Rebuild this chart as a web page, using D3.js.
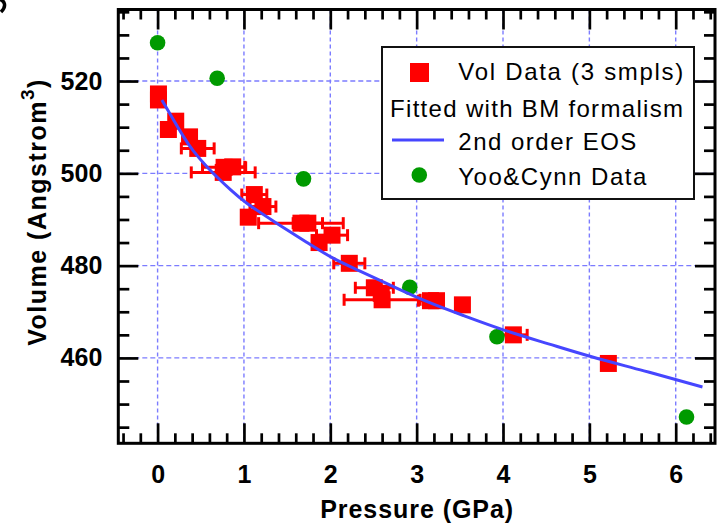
<!DOCTYPE html>
<html><head><meta charset="utf-8">
<script src="https://cdn.jsdelivr.net/npm/d3@7"></script>
<style>body{margin:0;background:#fff}svg{display:block}</style>
</head><body><svg id="c" width="725" height="525"></svg>
<script>
// ---- data ----
const volP   = [0.01, 0.01, 0.125, 0.21, 0.37, 0.465, 0.76, 0.77, 0.87, 1.12, 1.22, 1.05, 1.66, 1.74, 1.87, 2.02, 2.22, 2.51, 2.59, 2.60, 3.16, 3.23, 3.53, 4.12, 5.22];
const volV   = [517.2, 515.9, 509.5, 511.3, 507.9, 505.4, 500.2, 501.3, 501.4, 495.4, 492.8, 490.5, 489.2, 489.2, 485.0, 486.6, 480.5, 475.2, 474.0, 472.6, 472.4, 472.4, 471.5, 465.0, 458.8];
const volErr = [0, 0, 0, 0, 0, 0.19, 0.37, 0.25, 0.14, 0.145, 0.15, 0, 0.49, 0.17, 0, 0.18, 0.18, 0.22, 0, 0.44, 0.14, 0, 0, 0.16, 0];
const yooP = [0, 0.69, 1.69, 2.92, 3.93, 6.125];
const yooV = [528.3, 520.6, 498.8, 475.3, 464.6, 447.2];
const fitP = [0.05, 0.18, 0.30, 0.41, 0.57, 0.72, 0.84, 1.00, 1.36, 1.75, 2.02, 2.30, 2.77, 3.15, 3.54, 4.00, 4.54, 5.00, 5.62, 6.31];
const fitV = [515.9, 511.7, 507.9, 504.8, 501.4, 498.6, 496.5, 493.8, 489.4, 484.8, 481.6, 479.2, 475.1, 471.9, 469.2, 466.0, 463.0, 460.3, 457.3, 453.7];
const xTicks = [0, 1, 2, 3, 4, 5, 6];
const yTicks = [460, 480, 500, 520];
const legendLabels = ["Vol Data (3 smpls)", "Fitted with BM formalism", "2nd order EOS", "Yoo&Cynn Data"];
const xTitle = "Pressure (GPa)";
const yTitleMain = "Volume (Angstrom";

// ---- layout ----
const L = 118.3, R = 715, T = 9.5, B = 443.3;
const x = d3.scaleLinear().domain([-0.455, 6.455]).range([L, R]);
const y = d3.scaleLinear().domain([441.5, 535.5]).range([B, T]);
const svg = d3.select("#c");
const font = "'Liberation Sans', Arial, Helvetica, sans-serif";
const gridColor = "#7c7cff";
const red = "#ff0000", green = "#009a00", blue = "#4646ff";

// fragment of a cut-off panel letter in the corner
svg.append("path").attr("d", "M-2,-1 C5,0 7,6 1,12")
  .attr("fill", "none").attr("stroke", "#000").attr("stroke-width", 3.5);

// grid
svg.append("g").selectAll("line").data(xTicks).join("line")
  .attr("x1", d => x(d)).attr("x2", d => x(d)).attr("y1", T).attr("y2", B)
  .attr("stroke", gridColor).attr("stroke-width", 1.4).attr("stroke-dasharray", "4,3");
svg.append("g").selectAll("line").data(yTicks).join("line")
  .attr("y1", d => y(d)).attr("y2", d => y(d)).attr("x1", L).attr("x2", R)
  .attr("stroke", gridColor).attr("stroke-width", 1.4).attr("stroke-dasharray", "5,3");

// axes
const xMinor = d3.range(-4, 65, 2).map(v => v / 10).filter(v => Math.abs(v - Math.round(v)) > 1e-6);
const yMinor = d3.range(445, 536, 5).filter(v => v % 20 !== 0);
function styleAxis(g) {
  g.select(".domain").remove();
  g.selectAll(".tick line").attr("stroke", "#000").attr("stroke-width", 2.7);
  g.selectAll("text").attr("font-family", font).attr("font-weight", "bold").attr("font-size", 25).attr("fill", "#000");
}
svg.append("g").attr("transform", `translate(0,${B})`)
  .call(d3.axisBottom(x).tickValues(xTicks).tickSize(-20).tickSizeOuter(0).tickPadding(22).tickFormat(d3.format("d"))).call(styleAxis);
svg.append("g").attr("transform", `translate(0,${B})`)
  .call(d3.axisBottom(x).tickValues(xMinor).tickSize(-10).tickSizeOuter(0).tickFormat("")).call(styleAxis);
svg.append("g").attr("transform", `translate(0,${T})`)
  .call(d3.axisTop(x).tickValues(xTicks).tickSize(-20).tickSizeOuter(0).tickFormat("")).call(styleAxis);
svg.append("g").attr("transform", `translate(0,${T})`)
  .call(d3.axisTop(x).tickValues(xMinor).tickSize(-10).tickSizeOuter(0).tickFormat("")).call(styleAxis);
svg.append("g").attr("transform", `translate(${L},0)`)
  .call(d3.axisLeft(y).tickValues(yTicks).tickSize(-20).tickSizeOuter(0).tickPadding(16).tickFormat(d3.format("d"))).call(styleAxis);
svg.append("g").attr("transform", `translate(${L},0)`)
  .call(d3.axisLeft(y).tickValues(yMinor).tickSize(-11).tickSizeOuter(0).tickFormat("")).call(styleAxis);
svg.append("g").attr("transform", `translate(${R},0)`)
  .call(d3.axisRight(y).tickValues(yTicks).tickSize(-20).tickSizeOuter(0).tickFormat("")).call(styleAxis);
svg.append("g").attr("transform", `translate(${R},0)`)
  .call(d3.axisRight(y).tickValues(yMinor).tickSize(-11).tickSizeOuter(0).tickFormat("")).call(styleAxis);

// frame
svg.append("rect").attr("x", L).attr("y", T).attr("width", R - L).attr("height", B - T)
  .attr("fill", "none").attr("stroke", "#000").attr("stroke-width", 3);

// axis titles
svg.append("text").attr("x", (L + R) / 2).attr("y", 518).attr("text-anchor", "middle")
  .attr("font-family", font).attr("font-weight", "bold").attr("font-size", 25)
  .attr("textLength", 193).attr("lengthAdjust", "spacing").text(xTitle);
const yt = svg.append("text").attr("transform", "translate(46,212) rotate(-90)").attr("text-anchor", "middle")
  .attr("font-family", font).attr("font-weight", "bold").attr("font-size", 25).attr("letter-spacing", 1.5);
yt.append("tspan").text(yTitleMain);
yt.append("tspan").attr("dy", -12).attr("font-size", 19).text("3");
yt.append("tspan").attr("dy", 12).text(")");

// data: error bars + squares
const vol = volP.map((p, i) => ({p, v: volV[i], e: volErr[i]}));
const eb = svg.append("g").attr("stroke", red).attr("stroke-width", 3);
vol.filter(d => d.e > 0).forEach(d => {
  eb.append("line").attr("x1", x(d.p - d.e)).attr("x2", x(d.p + d.e)).attr("y1", y(d.v)).attr("y2", y(d.v));
  [d.p - d.e, d.p + d.e].forEach(q => eb.append("line").attr("x1", x(q)).attr("x2", x(q)).attr("y1", y(d.v) - 6).attr("y2", y(d.v) + 6));
});
const sq = 17;
svg.append("g").selectAll("rect").data(vol).join("rect")
  .attr("x", d => x(d.p) - sq / 2).attr("y", d => y(d.v) - sq / 2).attr("width", sq).attr("height", sq).attr("fill", red);

// Yoo & Cynn circles
svg.append("g").selectAll("circle").data(yooP.map((p, i) => ({p, v: yooV[i]}))).join("circle")
  .attr("cx", d => x(d.p)).attr("cy", d => y(d.v)).attr("r", 7.8).attr("fill", green);

// fitted EOS curve
const line = d3.line().x(d => x(d.p)).y(d => y(d.v)).curve(d3.curveBasis);
svg.append("path").datum(fitP.map((p, i) => ({p, v: fitV[i]})))
  .attr("d", line).attr("fill", "none").attr("stroke", blue).attr("stroke-width", 3);

// legend
const lg = svg.append("g");
lg.append("rect").attr("x", 382).attr("y", 47).attr("width", 312).attr("height", 152)
  .attr("fill", "#fff").attr("stroke", "#111").attr("stroke-width", 2);
lg.append("rect").attr("x", 410).attr("y", 63).attr("width", 19).attr("height", 19).attr("fill", red);
lg.append("line").attr("x1", 392).attr("x2", 444).attr("y1", 140).attr("y2", 140).attr("stroke", blue).attr("stroke-width", 3);
lg.append("circle").attr("cx", 419.3).attr("cy", 175).attr("r", 7.8).attr("fill", green);
const lt = [
  {t: legendLabels[0], x: 458.3, y: 80, w: 225},
  {t: legendLabels[1], x: 390, y: 116.5, w: 293},
  {t: legendLabels[2], x: 458.3, y: 150, w: 178},
  {t: legendLabels[3], x: 458.3, y: 185, w: 188}
];
lg.selectAll("text.l").data(lt).join("text").attr("class", "l")
  .attr("x", d => d.x).attr("y", d => d.y).attr("font-family", font).attr("font-size", 24)
  .attr("textLength", d => d.w).attr("lengthAdjust", "spacing").text(d => d.t);
</script></body></html>
